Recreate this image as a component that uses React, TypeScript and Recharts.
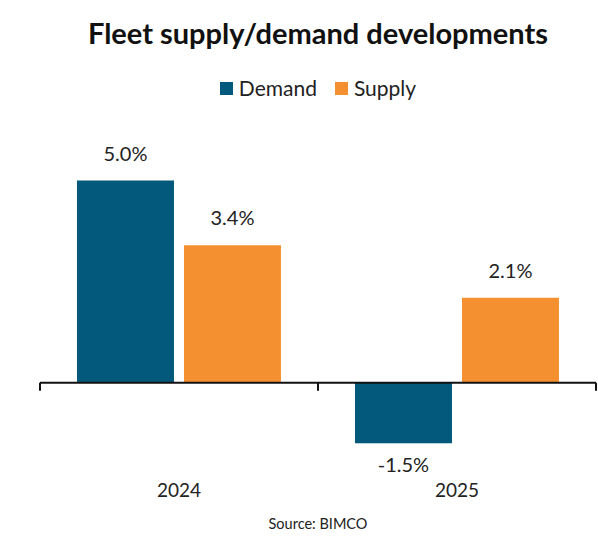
import { Bar, BarChart, LabelList, ReferenceLine, XAxis, YAxis } from "recharts"

// values
const years = ["2024", "2025"]
const demand = [5.0, -1.5]
const supply = [3.4, 2.1]

const data = years.map((year, i) => ({ year, demand: demand[i], supply: supply[i] }))

const FONT = "Lato, 'Open Sans', sans-serif"
const DEMAND = "#02597C"
const SUPPLY = "#F59031"

const ValueLabel = (props: any) => {
  const { x, y, width, height, value } = props
  const neg = value < 0
  const bottom = neg ? Math.max(y, y + height) : Math.min(y, y + height)
  return (
    <text
      x={x + width / 2}
      y={neg ? bottom + 24 : bottom - 25}
      textAnchor="middle"
      dominantBaseline="middle"
      fontFamily={FONT}
      fontSize={20}
      fill="#222"
    >
      {`${value.toFixed(1)}%`}
    </text>
  )
}

const AxisWithTicks = (props: any) => {
  const { x1, x2, y1 } = props
  const mid = (x1 + x2) / 2
  return (
    <g stroke="#111" strokeWidth={2} fill="none">
      <line x1={x1} x2={x2} y1={y1} y2={y1} />
      {[x1, mid, x2].map((tx) => (
        <line key={tx} x1={tx} x2={tx} y1={y1} y2={y1 + 8} />
      ))}
    </g>
  )
}

const YearTick = (props: any) => {
  const { x, y, payload } = props
  return (
    <text x={x} y={y - 20} textAnchor="middle" dominantBaseline="middle" fontFamily={FONT} fontSize={19} fill="#222">
      {payload.value}
    </text>
  )
}

const legendItems = [
  { name: "Demand", color: DEMAND },
  { name: "Supply", color: SUPPLY },
]

export default function App() {
  return (
    <div style={{ position: "absolute", left: 0, top: 0, width: 598, height: 542, background: "#fff" }}>
      <div
        style={{
          position: "absolute",
          top: 14,
          left: 38,
          width: 560,
          textAlign: "center",
          fontFamily: FONT,
          fontWeight: 700,
          fontSize: 29,
          lineHeight: "38px",
          color: "#111",
        }}
      >
        Fleet supply/demand developments
      </div>
      <div
        style={{
          position: "absolute",
          top: 75,
          left: 38,
          width: 560,
          display: "flex",
          justifyContent: "center",
          gap: 18,
          fontFamily: FONT,
          fontSize: 21,
          lineHeight: "26px",
          color: "#222",
        }}
      >
        {legendItems.map((it) => (
          <div key={it.name} style={{ display: "flex", alignItems: "center", gap: 6 }}>
            <span style={{ display: "inline-block", width: 13, height: 13, background: it.color }} />
            <span>{it.name}</span>
          </div>
        ))}
      </div>
      <BarChart
        width={598}
        height={542}
        data={data}
        margin={{ top: 140, right: 2, left: 40, bottom: 8 }}
        barCategoryGap="13.3%"
        barGap={10}
      >
        <XAxis dataKey="year" axisLine={false} tickLine={false} height={30} tick={<YearTick />} />
        <YAxis hide domain={[-3, 6]} width={0} />
        <Bar dataKey="demand" name="Demand" fill={DEMAND} isAnimationActive={false}>
          <LabelList dataKey="demand" content={<ValueLabel />} />
        </Bar>
        <Bar dataKey="supply" name="Supply" fill={SUPPLY} isAnimationActive={false}>
          <LabelList dataKey="supply" content={<ValueLabel />} />
        </Bar>
        <ReferenceLine y={0} shape={<AxisWithTicks />} />
      </BarChart>
      <div
        style={{
          position: "absolute",
          top: 515,
          left: 38,
          width: 560,
          textAlign: "center",
          fontFamily: FONT,
          fontSize: 14.5,
          color: "#222",
        }}
      >
        Source: BIMCO
      </div>
    </div>
  )
}
